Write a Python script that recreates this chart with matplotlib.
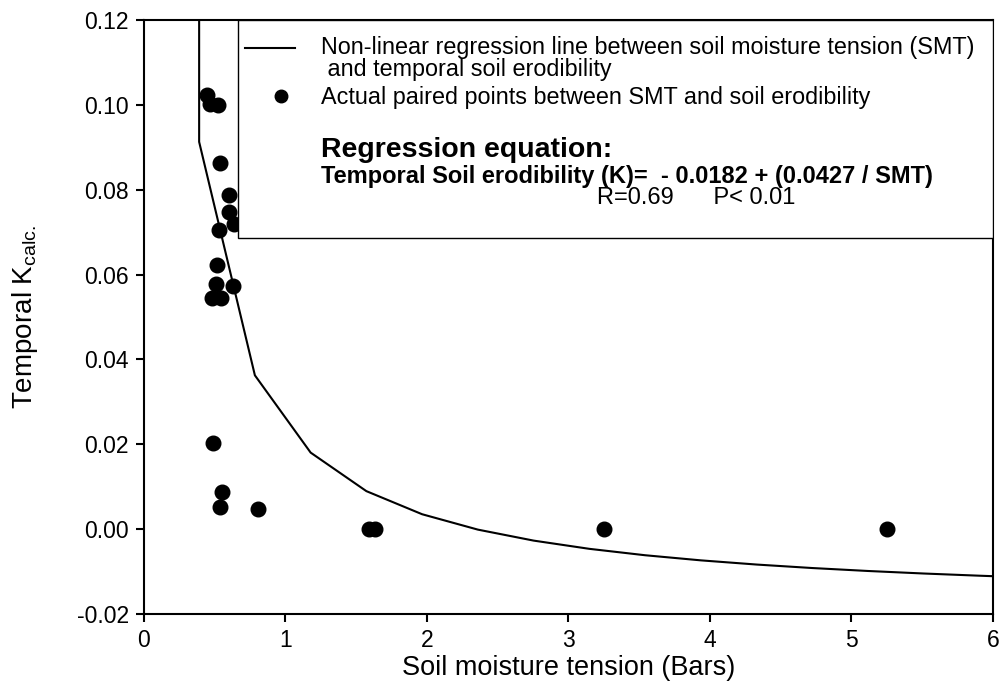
import matplotlib
matplotlib.use("Agg")
import matplotlib.pyplot as plt
from matplotlib.patches import Rectangle
import numpy as np

plt.rcParams['font.family'] = ['Liberation Sans', 'DejaVu Sans']

# Measured pairs: soil moisture tension (bars) vs temporal K
smt = [0.443, 0.466, 0.525, 0.537, 0.603, 0.603, 0.638, 0.530, 0.518, 0.509,
       0.631, 0.478, 0.541, 0.490, 0.549, 0.537, 0.808, 1.59, 1.63, 3.25, 5.25]
k_calc = [0.1023, 0.1003, 0.0999, 0.0862, 0.0787, 0.0748, 0.0720, 0.0705, 0.0622,
          0.0579, 0.0573, 0.0546, 0.0546, 0.0202, 0.0088, 0.0053, 0.0047,
          0.0, 0.0, 0.0, 0.0]

# Regression K = a + b / SMT evaluated on a coarse grid
coef_a = -0.0182
coef_b = 0.0427
smt_grid = [0.39, 0.39, 0.784, 1.178, 1.572, 1.966, 2.36, 2.754, 3.148, 3.542,
            3.936, 4.33, 4.724, 5.118, 5.512, 5.906, 6.0]

x_ticks = [0, 1, 2, 3, 4, 5, 6]
y_ticks = [-0.02, 0.00, 0.02, 0.04, 0.06, 0.08, 0.10, 0.12]

fig = plt.figure(figsize=(9.99, 6.91), dpi=100)
ax = fig.add_axes([0.1441, 0.1114, 0.8498, 0.8596])

grid = np.array(smt_grid)
k_line = coef_a + coef_b / grid
k_line[0] = 0.5  # vertical rise off the top of the plot
ax.plot(grid, k_line, color='black', lw=1.5, zorder=2)
ax.plot(smt, k_calc, 'o', color='black', ms=10.5, zorder=3, linestyle='none')

ax.set_xlim(0, 6)
ax.set_ylim(-0.02, 0.12)
ax.set_xticks(x_ticks)
ax.set_xticklabels([str(t) for t in x_ticks])
ax.set_yticks(y_ticks)
ax.set_yticklabels([f"{t:.2f}" for t in y_ticks])
ax.tick_params(direction='out', length=6, width=1.5, labelsize=16.5, pad=5,
               top=False, right=False)
for sp in ax.spines.values():
    sp.set_linewidth(1.5)

ax.set_xlabel('Soil moisture tension (Bars)', fontsize=19.5, labelpad=2)
ax.set_ylabel('Temporal K$_{\\mathregular{calc.}}$', fontsize=20, labelpad=26)

# Key box with the fitted equation
box = Rectangle((0.1107, 0.633), 0.8893, 0.367, transform=ax.transAxes,
                facecolor='white', edgecolor='black', lw=1.0, zorder=4)
ax.add_patch(box)
ax.plot([0.119, 0.178], [0.953, 0.953], color='black', lw=1.5,
        transform=ax.transAxes, zorder=5, clip_on=False)
ax.plot([0.1614], [0.872], 'o', color='black', ms=9,
        transform=ax.transAxes, zorder=5, clip_on=False)

txt = dict(transform=ax.transAxes, zorder=6, va='center', ha='left')
ax.text(0.2085, 0.953, 'Non-linear regression line between soil moisture tension (SMT)',
        fontsize=16.8, **txt)
ax.text(0.2085, 0.916, ' and temporal soil erodibility', fontsize=16.8, **txt)
ax.text(0.2085, 0.870, 'Actual paired points between SMT and soil erodibility',
        fontsize=16.8, **txt)
ax.text(0.2085, 0.781, 'Regression equation:', fontsize=20.5, fontweight='bold', **txt)
ax.text(0.2085, 0.737, 'Temporal Soil erodibility (K)=  - 0.0182 + (0.0427 / SMT)',
        fontsize=17, fontweight='bold', **txt)
ax.text(0.5336, 0.700, 'R=0.69      P< 0.01', fontsize=17, **txt)

fig.savefig('out.png', dpi=100)
